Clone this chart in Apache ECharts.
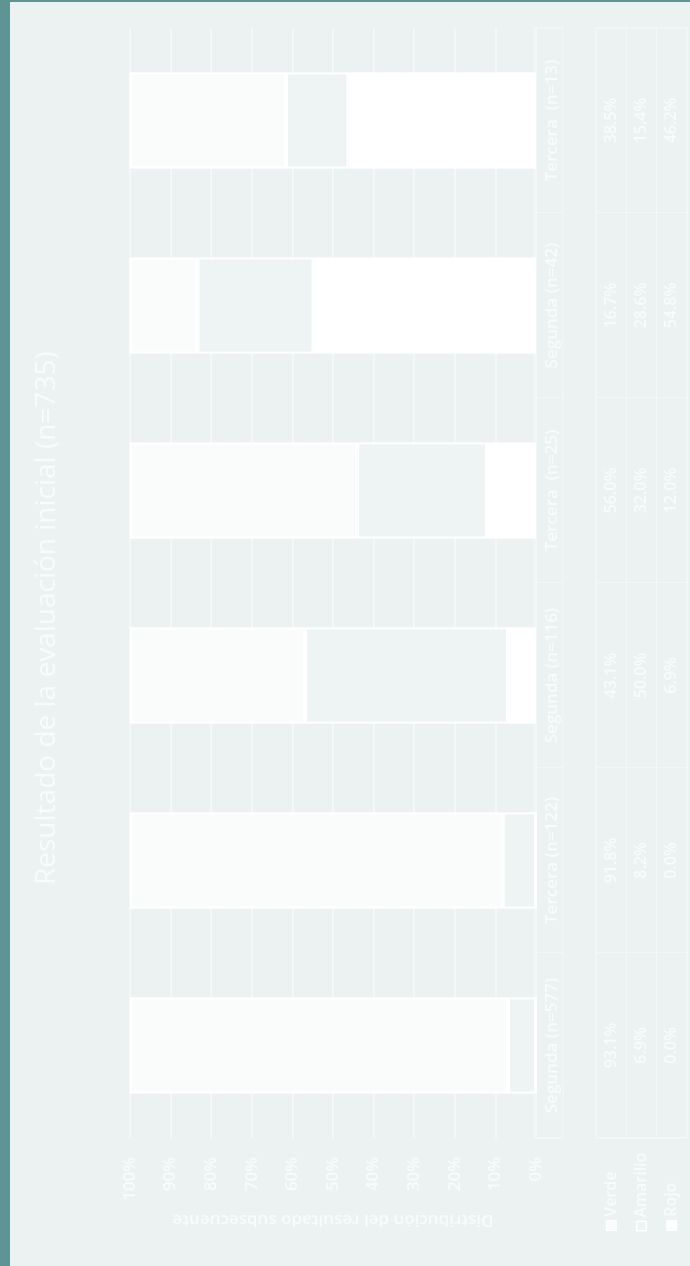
<!DOCTYPE html>
<html>
<head>
<meta charset="utf-8">
<script src="https://cdn.jsdelivr.net/npm/echarts@6/dist/echarts.min.js"></script>
<style>
  html, body { margin: 0; padding: 0; width: 690px; height: 1266px; overflow: hidden; background: #5f9494; }
  #frame { position: absolute; left: 10px; top: 2px; width: 680px; height: 1264px; background: #ecf1f1; overflow: hidden; }
  #chart { position: absolute; left: 0; top: 0; width: 1264px; height: 680px;
           transform-origin: 0 0; transform: translateY(1264px) rotate(-90deg); }
</style>
</head>
<body>
<div id="frame"><div id="chart"></div></div>
<script>
const titleText = 'Resultado de la evaluación inicial (n=735)';
const valueAxisName = 'Distribución del resultado subsecuente';
const categories = ['Segunda (n=577)', 'Tercera (n=122)', 'Segunda (n=116)', 'Tercera  (n=25)', 'Segunda (n=42)', 'Tercera  (n=13)'];
const rowNames = ['Verde', 'Amarillo', 'Rojo'];
const verde = [93.1, 91.8, 43.1, 56.0, 16.7, 38.5];
const amarillo = [6.9, 8.2, 50.0, 32.0, 28.6, 15.4];
const rojo = [0.0, 0.0, 6.9, 12.0, 54.8, 46.2];
const valueTicks = [0, 10, 20, 30, 40, 50, 60, 70, 80, 90, 100];

const rows = [verde, amarillo, rojo];
const FONT = '"Open Sans", "DejaVu Sans", sans-serif';
const TXT = '#f8fbfb';
const LINE = '#f4f7f7';
const colVerde = '#fafcfc';
const colAmarillo = '#eef3f3';
const colRojo = '#ffffff';
const W = 600;

const tableData = [];
rows.forEach((arr, r) => arr.forEach((v, c) => tableData.push([c, r])));

const chart = echarts.init(document.getElementById('chart'), null, { renderer: 'canvas' });
chart.setOption({
  backgroundColor: 'transparent',
  animation: false,
  title: {
    text: titleText, left: 376, top: 18,
    textStyle: { fontFamily: FONT, fontSize: 28, fontWeight: 'normal', color: TXT }
  },
  grid: [
    { left: 128, right: 26, top: 120, bottom: 154 },
    { left: 128, right: 26, top: 586, height: 91, show: true, borderColor: LINE, borderWidth: 1 },
    { left: 128, right: 26, top: 524, height: 29, show: true, borderColor: LINE, borderWidth: 1 }
  ],
  xAxis: [
    { type: 'category', gridIndex: 0, data: categories,
      axisLine: { show: true, lineStyle: { color: LINE, width: 1 } },
      axisTick: { show: false },
      axisLabel: { interval: 0, margin: 8, fontFamily: FONT, fontSize: 17, fontWeight: W, color: TXT },
      splitLine: { show: false } },
    { type: 'category', gridIndex: 1, data: categories,
      axisLine: { show: false }, axisTick: { show: false }, axisLabel: { show: false },
      splitLine: { show: true, lineStyle: { color: LINE, width: 1 } } },
    { type: 'category', gridIndex: 2, data: categories,
      axisLine: { show: false }, axisTick: { show: false }, axisLabel: { show: false },
      splitLine: { show: true, lineStyle: { color: LINE, width: 1 } } }
  ],
  yAxis: [
    { type: 'value', gridIndex: 0, min: 0, max: 100, interval: 10,
      name: valueAxisName, nameLocation: 'middle', nameRotate: 90, nameGap: 72,
      nameTextStyle: { fontFamily: FONT, fontSize: 17, fontWeight: W, color: TXT },
      axisLine: { show: false }, axisTick: { show: false },
      axisLabel: { margin: 19, fontFamily: FONT, fontSize: 17, fontWeight: W, color: TXT,
        formatter: v => valueTicks.includes(v) ? v + '%' : '' },
      splitLine: { show: true, lineStyle: { color: LINE, width: 2 } } },
    { type: 'category', gridIndex: 1, data: rowNames, inverse: true,
      axisLine: { show: false }, axisTick: { show: false },
      splitLine: { show: true, lineStyle: { color: LINE, width: 1 } },
      axisLabel: { align: 'left', margin: 92, fontFamily: FONT, fontSize: 16, fontWeight: W, color: TXT,
        formatter: (v, i) => '{k' + i + '|} ' + v,
        rich: {
          k0: { width: 9, height: 9, backgroundColor: colVerde, borderColor: '#ffffff', borderWidth: 1 },
          k1: { width: 8, height: 8, backgroundColor: colAmarillo, borderColor: '#ffffff', borderWidth: 1.5 },
          k2: { width: 9, height: 9, backgroundColor: colRojo, borderColor: '#ffffff', borderWidth: 1 }
        } } },
    { type: 'value', gridIndex: 2, show: false }
  ],
  series: [
    { name: 'Rojo', type: 'bar', stack: 'total', xAxisIndex: 0, yAxisIndex: 0, data: rojo,
      barWidth: '52%', itemStyle: { color: colRojo, borderColor: '#ffffff', borderWidth: 2 } },
    { name: 'Amarillo', type: 'bar', stack: 'total', xAxisIndex: 0, yAxisIndex: 0, data: amarillo,
      barWidth: '52%', itemStyle: { color: colAmarillo, borderColor: '#ffffff', borderWidth: 2 } },
    { name: 'Verde', type: 'bar', stack: 'total', xAxisIndex: 0, yAxisIndex: 0, data: verde,
      barWidth: '52%', itemStyle: { color: colVerde, borderColor: '#ffffff', borderWidth: 2 } },
    { type: 'custom', xAxisIndex: 1, yAxisIndex: 1, data: tableData,
      encode: { x: 0, y: 1 },
      renderItem: (params, api) => {
        const c = api.value(0), r = api.value(1);
        const p = api.coord([c, r]);
        return { type: 'text', x: p[0], y: p[1],
          style: { text: rows[r][c].toFixed(1) + '%', fill: TXT, font: W + ' 16px ' + FONT,
                   align: 'center', verticalAlign: 'middle' } };
      } }
  ]
});
</script>
</body>
</html>
